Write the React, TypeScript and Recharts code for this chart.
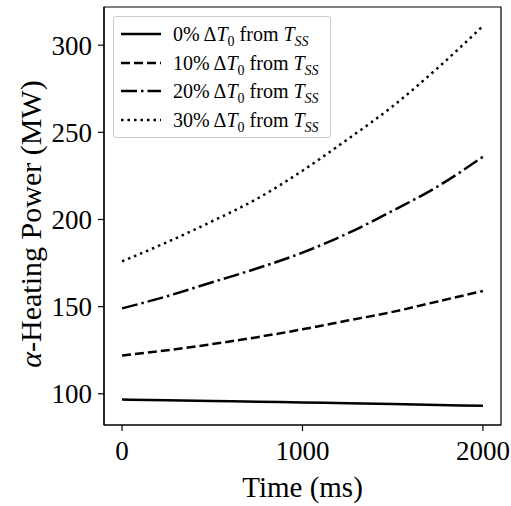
import React from 'react';
import { LineChart, Line, XAxis, YAxis, ReferenceArea } from 'recharts';

const times = [0, 250, 500, 750, 1000, 1250, 1500, 1750, 2000];
const pct0 = [96.7, 96.3, 95.9, 95.5, 95.0, 94.6, 94.1, 93.6, 93.1];
const pct10 = [122, 125, 128.5, 132.5, 137, 142, 147, 153, 159];
const pct20 = [149, 156, 164, 172, 181, 192, 205, 219, 236];
const pct30 = [176, 187, 199, 212, 228, 246, 265, 287, 311];
const seriesLabels = ['0%', '10%', '20%', '30%'];
const xTicks = [0, 1000, 2000];
const yTicks = [100, 150, 200, 250, 300];

const data = times.map((t, i) => ({ t, s0: pct0[i], s10: pct10[i], s20: pct20[i], s30: pct30[i] }));

const FONT = '"Liberation Serif", "DejaVu Serif", serif';
const dashes = ['', '9 4', '16 4 2.5 4', '2.5 4'];

const LegendBox = () => (
  <div
    style={{
      position: 'absolute',
      left: 113,
      top: 16,
      border: '1px solid #ccc',
      borderRadius: 3,
      background: 'rgba(255,255,255,0.8)',
      padding: '3px 6px 3px 6px',
      fontFamily: FONT,
      fontSize: 20,
      color: '#000',
      width: 218,
      boxSizing: 'border-box',
    }}
  >
    {seriesLabels.map((lab, i) => (
      <div key={lab} style={{ display: 'flex', alignItems: 'center', height: 28.5 }}>
        <svg width={42} height={10} style={{ marginRight: 11 }}>
          <line x1={1} y1={5} x2={41} y2={5} stroke="#000" strokeWidth={2.5} strokeDasharray={dashes[i]} />
        </svg>
        <span style={{ whiteSpace: 'nowrap', lineHeight: '22px' }}>
          {lab} Δ<i>T</i>
          <sub style={{ fontSize: 14, lineHeight: 0 }}>0</sub> from <i>T</i>
          <sub style={{ fontSize: 14, fontStyle: 'italic', lineHeight: 0 }}>SS</sub>
        </span>
      </div>
    ))}
  </div>
);

const YLabel = (props: any) => {
  const vb = props.viewBox || { x: 0, y: 7, width: 104, height: 418 };
  const cx = 30;
  const cy = vb.y + vb.height / 2 + 8;
  return (
    <text
      x={cx}
      y={cy}
      transform={`rotate(-90, ${cx}, ${cy})`}
      textAnchor="middle"
      dominantBaseline="central"
      fontFamily={FONT}
      fontSize={30}
      fill="#000"
    >
      <tspan fontStyle="italic">α</tspan>
      <tspan>-Heating Power (MW)</tspan>
    </text>
  );
};

const XLabel = (props: any) => {
  const vb = props.viewBox || { x: 104, y: 425, width: 397, height: 81 };
  return (
    <text
      x={vb.x + vb.width / 2}
      y={497}
      textAnchor="middle"
      fontFamily={FONT}
      fontSize={29}
      fill="#000"
    >
      Time (ms)
    </text>
  );
};

export default function App() {
  return (
    <div style={{ position: 'absolute', left: 0, top: 0, width: 511, height: 506, background: '#fff' }}>
      <LineChart width={511} height={506} data={data} margin={{ top: 7, right: 10, left: 0, bottom: 0 }}>
        <XAxis
          dataKey="t"
          type="number"
          domain={[-100, 2100]}
          ticks={xTicks}
          height={81}
          tickSize={6}
          tickMargin={10}
          stroke="#000"
          tick={{ fill: '#000', fontSize: 27, fontFamily: FONT }}
          axisLine={{ stroke: '#000', strokeWidth: 1.2 }}
          tickLine={{ stroke: '#000', strokeWidth: 1.2 }}
          label={<XLabel />}
        />
        <YAxis
          type="number"
          domain={[82.1, 321.9]}
          ticks={yTicks}
          width={104}
          tickSize={6}
          tickMargin={6}
          stroke="#000"
          allowDataOverflow
          tick={{ fill: '#000', fontSize: 27, fontFamily: FONT }}
          axisLine={{ stroke: '#000', strokeWidth: 1.2 }}
          tickLine={{ stroke: '#000', strokeWidth: 1.2 }}
          label={<YLabel />}
        />
        <ReferenceArea x1={-100} x2={2100} y1={82.1} y2={321.9} fill="none" fillOpacity={0} stroke="#000" strokeWidth={1.2} ifOverflow="visible" />
        <Line dataKey="s0" stroke="#000" strokeWidth={2.5} dot={false} isAnimationActive={false} type="monotone" />
        <Line dataKey="s10" stroke="#000" strokeWidth={2.5} strokeDasharray={dashes[1]} dot={false} isAnimationActive={false} type="monotone" />
        <Line dataKey="s20" stroke="#000" strokeWidth={2.5} strokeDasharray={dashes[2]} dot={false} isAnimationActive={false} type="monotone" />
        <Line dataKey="s30" stroke="#000" strokeWidth={2.5} strokeDasharray={dashes[3]} dot={false} isAnimationActive={false} type="monotone" />
      </LineChart>
      <LegendBox />
    </div>
  );
}
